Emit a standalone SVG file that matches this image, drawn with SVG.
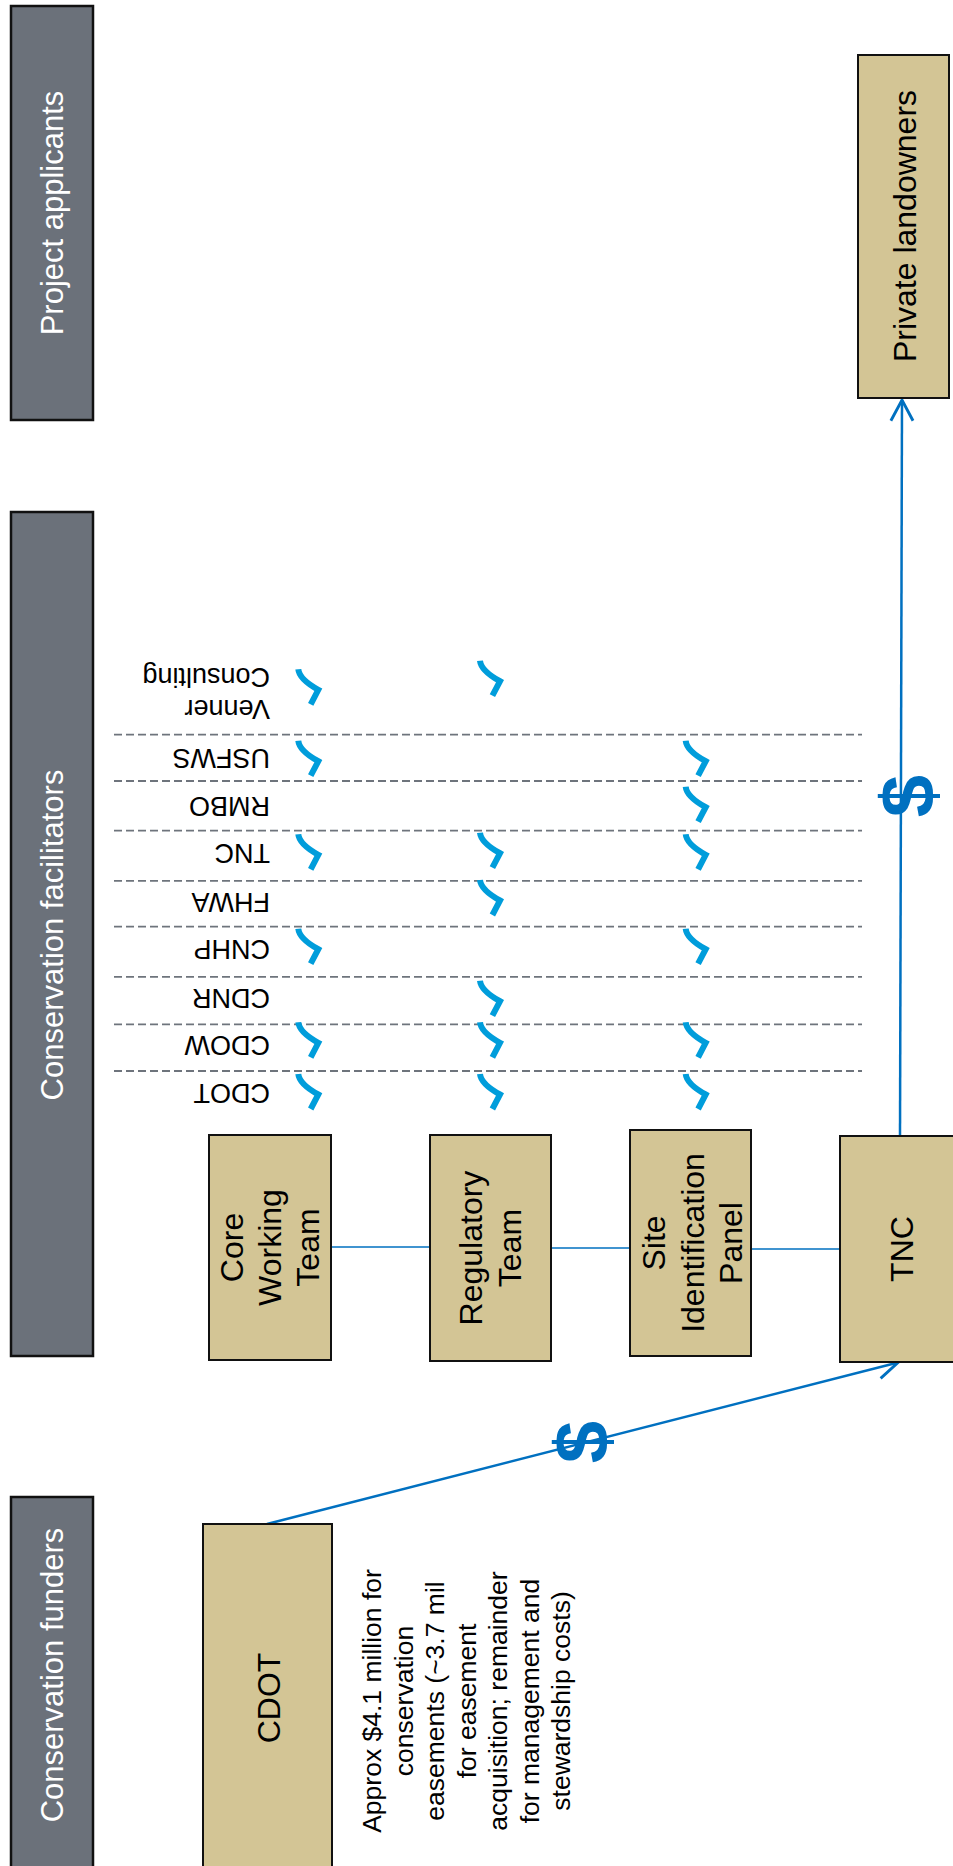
<svg xmlns="http://www.w3.org/2000/svg" xmlns:xlink="http://www.w3.org/1999/xlink" width="953" height="1866" viewBox="0 0 953 1866">
<style>
.bar{fill:#6B717A;stroke:#111;stroke-width:2.5}
.hdr{font-family:"Liberation Sans",Arial,sans-serif;font-size:31px;fill:#fff;text-anchor:middle}
.box{fill:#D3C595;stroke:#111;stroke-width:2}
.bt{font-family:"Liberation Sans",Arial,sans-serif;font-size:32px;fill:#000;text-anchor:middle}
.note{font-family:"Liberation Sans",Arial,sans-serif;font-size:26.5px;fill:#000;text-anchor:middle}
.lbl{font-family:"Liberation Sans",Arial,sans-serif;font-size:27px;fill:#000}
.dash{stroke:#6E747C;stroke-width:1.8;stroke-dasharray:8 4;fill:none}
.chk{fill:none;stroke:#009DDB;stroke-width:6;stroke-linejoin:miter}
.flow{stroke:#0070C0;stroke-width:2.5;fill:none}
.link{stroke:#0070C0;stroke-width:1.5;fill:none}
.dol{font-family:"Liberation Sans",Arial,sans-serif;font-size:76px;font-weight:bold;fill:#0070C0;text-anchor:middle}
</style>
<defs>
<marker id="arr" markerUnits="userSpaceOnUse" markerWidth="30" markerHeight="30" viewBox="-22 -12 26 24" refX="0" refY="0" orient="auto" overflow="visible">
<path d="M-18,-9.6 L0,0 L-18,9.6" fill="none" stroke="#0070C0" stroke-width="2.5"/>
</marker>
<path id="ck" class="chk" d="M0,0 Q1,10 20,20.5 L12.4,35"/>
</defs>
<rect width="953" height="1866" fill="#fff"/>

<g id="hdr-applicants">
<rect class="bar" x="11" y="6" width="82" height="414"/>
<text class="hdr" transform="translate(63,213) rotate(-90)">Project applicants</text>
</g>
<g id="hdr-facilitators">
<rect class="bar" x="11" y="512" width="82" height="844"/>
<text class="hdr" transform="translate(63,935) rotate(-90)">Conservation facilitators</text>
</g>
<g id="hdr-funders">
<rect class="bar" x="11" y="1497" width="82" height="420"/>
<text class="hdr" transform="translate(63,1675) rotate(-90)">Conservation funders</text>
</g>

<g id="grid">
<line class="dash" x1="114" y1="734.6" x2="862" y2="734.6"/>
<line class="dash" x1="114" y1="781" x2="862" y2="781"/>
<line class="dash" x1="114" y1="830.6" x2="862" y2="830.6"/>
<line class="dash" x1="114" y1="880.8" x2="862" y2="880.8"/>
<line class="dash" x1="114" y1="926.7" x2="862" y2="926.7"/>
<line class="dash" x1="114" y1="976.8" x2="862" y2="976.8"/>
<line class="dash" x1="114" y1="1024.3" x2="862" y2="1024.3"/>
<line class="dash" x1="114" y1="1071" x2="862" y2="1071"/>
</g>

<g id="row-labels">
<text class="lbl" transform="translate(270,700) rotate(180)"><tspan x="0" y="0">Venner</tspan><tspan x="0" y="32">Consulting</tspan></text>
<text class="lbl" transform="translate(270,748.8) rotate(180)">USFWS</text>
<text class="lbl" transform="translate(270,796.6) rotate(180)">RMBO</text>
<text class="lbl" transform="translate(270,844.4) rotate(180)">TNC</text>
<text class="lbl" transform="translate(270,893.4) rotate(180)">FHWA</text>
<text class="lbl" transform="translate(270,940) rotate(180)">CNHP</text>
<text class="lbl" transform="translate(270,989) rotate(180)">CDNR</text>
<text class="lbl" transform="translate(270,1035.8) rotate(180)">CDOW</text>
<text class="lbl" transform="translate(270,1083.6) rotate(180)">CDOT</text>
</g>

<g id="checks">
<use xlink:href="#ck" x="298.3" y="669.3"/>
<use xlink:href="#ck" x="480" y="660.7"/>
<use xlink:href="#ck" x="298.3" y="740.7"/>
<use xlink:href="#ck" x="685.7" y="740.7"/>
<use xlink:href="#ck" x="685.7" y="786.7"/>
<use xlink:href="#ck" x="298.3" y="834.3"/>
<use xlink:href="#ck" x="480" y="832.7"/>
<use xlink:href="#ck" x="685.7" y="834.3"/>
<use xlink:href="#ck" x="480" y="880"/>
<use xlink:href="#ck" x="298.3" y="928.7"/>
<use xlink:href="#ck" x="685.7" y="928.7"/>
<use xlink:href="#ck" x="480" y="980.7"/>
<use xlink:href="#ck" x="298.3" y="1022.3"/>
<use xlink:href="#ck" x="480" y="1022.3"/>
<use xlink:href="#ck" x="685.7" y="1022.3"/>
<use xlink:href="#ck" x="298.3" y="1074"/>
<use xlink:href="#ck" x="480" y="1074"/>
<use xlink:href="#ck" x="685.7" y="1074"/>
</g>

<g id="connectors">
<line class="link" x1="331" y1="1247" x2="430" y2="1247"/>
<line class="link" x1="551" y1="1248" x2="630" y2="1248"/>
<line class="link" x1="751" y1="1249" x2="840" y2="1249"/>
<line class="flow" x1="267" y1="1524" x2="898" y2="1362.5" marker-end="url(#arr)"/>
<line class="flow" x1="900" y1="1136" x2="902" y2="400" marker-end="url(#arr)"/>
<text class="dol" transform="translate(607.5,1442) rotate(-90)">$</text>
<text class="dol" transform="translate(933.5,796) rotate(-90)">$</text>
</g>

<g id="node-landowners">
<rect class="box" x="858" y="55" width="91" height="343"/>
<text class="bt" transform="translate(915.5,226) rotate(-90)">Private landowners</text>
</g>
<g id="node-core">
<rect class="box" x="209" y="1135" width="122" height="225"/>
<text class="bt" transform="translate(0,1247.5) rotate(-90)"><tspan x="0" y="243">Core</tspan><tspan x="0" y="281">Working</tspan><tspan x="0" y="319">Team</tspan></text>
</g>
<g id="node-regulatory">
<rect class="box" x="430" y="1135" width="121" height="226"/>
<text class="bt" transform="translate(0,1248) rotate(-90)"><tspan x="0" y="482">Regulatory</tspan><tspan x="0" y="521">Team</tspan></text>
</g>
<g id="node-site">
<rect class="box" x="630" y="1130" width="121" height="226"/>
<text class="bt" transform="translate(0,1243) rotate(-90)"><tspan x="0" y="665">Site</tspan><tspan x="0" y="704">Identification</tspan><tspan x="0" y="742">Panel</tspan></text>
</g>
<g id="node-tnc">
<rect class="box" x="840" y="1136" width="130" height="226"/>
<text class="bt" transform="translate(913,1249) rotate(-90)">TNC</text>
</g>
<g id="node-cdot">
<rect class="box" x="203" y="1524" width="129" height="400"/>
<text class="bt" transform="translate(280,1698) rotate(-90)">CDOT</text>
</g>
<g id="note-cdot">
<text class="note" transform="translate(0,1701) rotate(-90)"><tspan x="0" y="381">Approx $4.1 million for</tspan><tspan x="0" y="412.5">conservation</tspan><tspan x="0" y="444">easements (~3.7 mil</tspan><tspan x="0" y="475.5">for easement</tspan><tspan x="0" y="507">acquisition; remainder</tspan><tspan x="0" y="538.5">for management and</tspan><tspan x="0" y="570">stewardship costs)</tspan></text>
</g>
</svg>
